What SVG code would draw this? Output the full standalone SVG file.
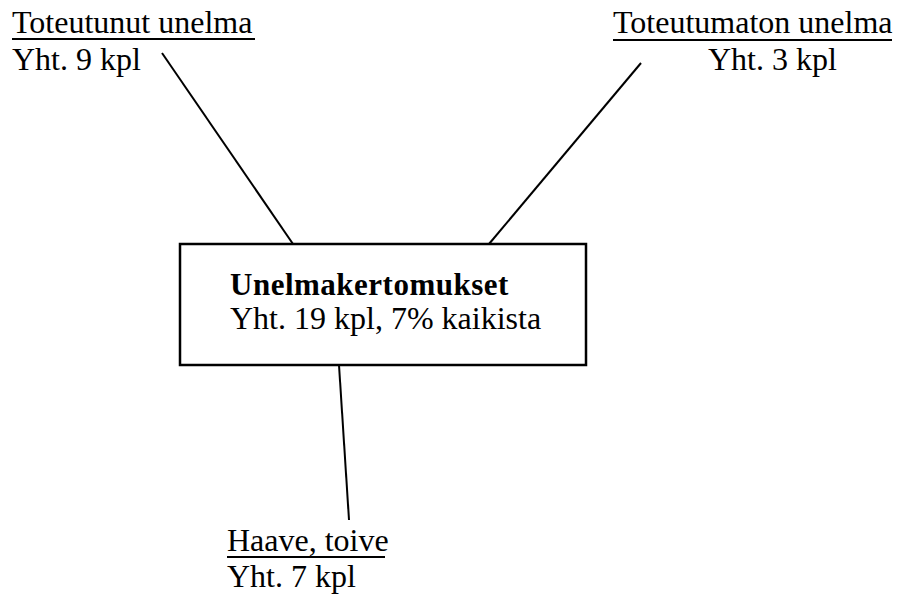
<svg xmlns="http://www.w3.org/2000/svg" width="901" height="599" viewBox="0 0 901 599">
<style>
text{font-family:"Liberation Serif","Times New Roman",serif;font-size:32px;fill:#000}
.b{font-weight:bold;font-size:31px}
.c{stroke:#000;stroke-width:2;fill:none}
.u{stroke:#000;stroke-width:2}
</style>
<rect width="901" height="599" fill="#fff"/>
<g id="connectors">
<line class="c" x1="162" y1="53" x2="293" y2="244"/>
<line class="c" x1="641" y1="63" x2="489" y2="244"/>
<line class="c" x1="339" y1="365" x2="349" y2="520"/>
</g>
<g id="center">
<rect x="180" y="244" width="406" height="121" fill="#fff" stroke="#000" stroke-width="2.5"/>
<text class="b" x="230" y="295" letter-spacing="0.5">Unelmakertomukset</text>
<text x="230" y="329">Yht. 19 kpl, 7% kaikista</text>
</g>
<g id="toteutunut">
<text x="12" y="33">Toteutunut unelma</text>
<line class="u" x1="12" y1="39" x2="255" y2="39"/>
<text x="12" y="70">Yht. 9 kpl</text>
</g>
<g id="toteutumaton">
<text x="613" y="33">Toteutumaton unelma</text>
<line class="u" x1="613" y1="40" x2="892" y2="40"/>
<text x="708" y="70">Yht. 3 kpl</text>
</g>
<g id="haave">
<text x="227" y="551">Haave, toive</text>
<line class="u" x1="227" y1="557" x2="385" y2="557"/>
<text x="227" y="587">Yht. 7 kpl</text>
</g>
</svg>
